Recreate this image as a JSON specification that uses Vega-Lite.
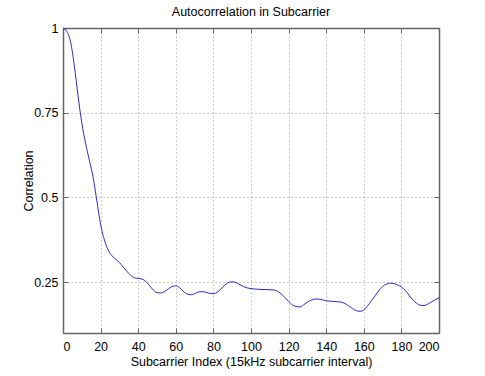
{
  "$schema": "https://vega.github.io/schema/vega-lite/v6.json",
  "autosize": "none",
  "padding": {"left": 63, "top": 28, "right": 46, "bottom": 43},
  "width": 376,
  "height": 305,
  "background": "white",
  "config": {
    "font": "Liberation Sans",
    "view": {"stroke": null},
    "axis": {
      "domainColor": "#666",
      "domainWidth": 1.5,
      "tickColor": "#666",
      "tickSize": -5,
      "labelFontSize": 12.5,
      "labelColor": "#000",
      "titleFontSize": 12.5,
      "titleFontWeight": "normal",
      "titleColor": "#000",
      "gridColor": "#999",
      "gridDash": [1, 3],
      "gridWidth": 1
    }
  },
  "title": {"text": "Autocorrelation in Subcarrier", "fontSize": 12.5, "fontWeight": "normal", "offset": 4, "color": "#000"},
  "data": {"values": [
    {"x":0,"y":1.0},{"x":2,"y":0.99},{"x":4,"y":0.96},{"x":6,"y":0.89},{"x":8,"y":0.8},{"x":10,"y":0.72},
    {"x":12,"y":0.66},{"x":14,"y":0.61},{"x":16,"y":0.56},{"x":18,"y":0.49},{"x":20,"y":0.42},{"x":22,"y":0.375},
    {"x":24,"y":0.345},{"x":26,"y":0.328},{"x":28,"y":0.318},{"x":30,"y":0.308},{"x":32,"y":0.295},{"x":34,"y":0.282},
    {"x":36,"y":0.27},{"x":38,"y":0.263},{"x":40,"y":0.261},{"x":42,"y":0.259},{"x":44,"y":0.253},{"x":46,"y":0.24},
    {"x":48,"y":0.227},{"x":50,"y":0.219},{"x":52,"y":0.218},{"x":54,"y":0.222},{"x":56,"y":0.23},{"x":58,"y":0.237},
    {"x":60,"y":0.239},{"x":62,"y":0.234},{"x":64,"y":0.223},{"x":66,"y":0.215},{"x":68,"y":0.213},{"x":70,"y":0.216},
    {"x":72,"y":0.221},{"x":74,"y":0.222},{"x":76,"y":0.22},{"x":78,"y":0.217},{"x":80,"y":0.216},{"x":82,"y":0.22},
    {"x":84,"y":0.23},{"x":86,"y":0.241},{"x":88,"y":0.249},{"x":90,"y":0.251},{"x":92,"y":0.249},{"x":94,"y":0.243},
    {"x":96,"y":0.237},{"x":98,"y":0.233},{"x":100,"y":0.231},{"x":104,"y":0.229},{"x":108,"y":0.228},{"x":112,"y":0.227},
    {"x":115,"y":0.22},{"x":118,"y":0.205},{"x":120,"y":0.193},{"x":122,"y":0.183},{"x":124,"y":0.178},{"x":126,"y":0.177},
    {"x":128,"y":0.183},{"x":130,"y":0.191},{"x":132,"y":0.197},{"x":134,"y":0.2},{"x":136,"y":0.2},{"x":138,"y":0.198},
    {"x":140,"y":0.195},{"x":144,"y":0.193},{"x":148,"y":0.191},{"x":150,"y":0.187},{"x":152,"y":0.18},{"x":154,"y":0.172},
    {"x":156,"y":0.166},{"x":158,"y":0.164},{"x":160,"y":0.168},{"x":162,"y":0.18},{"x":164,"y":0.195},{"x":166,"y":0.21},
    {"x":168,"y":0.225},{"x":170,"y":0.237},{"x":172,"y":0.244},{"x":174,"y":0.247},{"x":176,"y":0.246},{"x":178,"y":0.242},
    {"x":180,"y":0.236},{"x":182,"y":0.226},{"x":184,"y":0.212},{"x":186,"y":0.198},{"x":188,"y":0.188},{"x":190,"y":0.182},
    {"x":192,"y":0.181},{"x":194,"y":0.185},{"x":196,"y":0.192},{"x":198,"y":0.198},{"x":200,"y":0.204}
  ]},
  "layer": [
    {
      "mark": {"type": "line", "color": "#2b2bc8", "strokeWidth": 1, "interpolate": "monotone"},
      "encoding": {
        "x": {"field": "x", "type": "quantitative", "scale": {"domain": [0, 200], "nice": false},
              "axis": {"values": [0,20,40,60,80,100,120,140,160,180,200], "title": "Subcarrier Index (15kHz subcarrier interval)", "labelPadding": 12, "titlePadding": 3, "grid": true}},
        "y": {"field": "y", "type": "quantitative", "scale": {"domain": [0.1, 1], "nice": false, "zero": false},
              "axis": {"values": [0.25, 0.5, 0.75, 1], "format": ".2~f", "title": "Correlation", "labelPadding": 10, "titlePadding": -2, "grid": true}}
      }
    },
    {
      "mark": {"type": "line", "opacity": 0},
      "encoding": {
        "x": {"field": "x", "type": "quantitative", "axis": {"orient": "top", "values": [0,20,40,60,80,100,120,140,160,180,200], "labels": false, "title": null, "grid": false}},
        "y": {"field": "y", "type": "quantitative", "axis": {"orient": "right", "values": [0.25, 0.5, 0.75, 1], "labels": false, "title": null, "grid": false}}
      }
    }
  ],
  "resolve": {"axis": {"x": "independent", "y": "independent"}}
}
